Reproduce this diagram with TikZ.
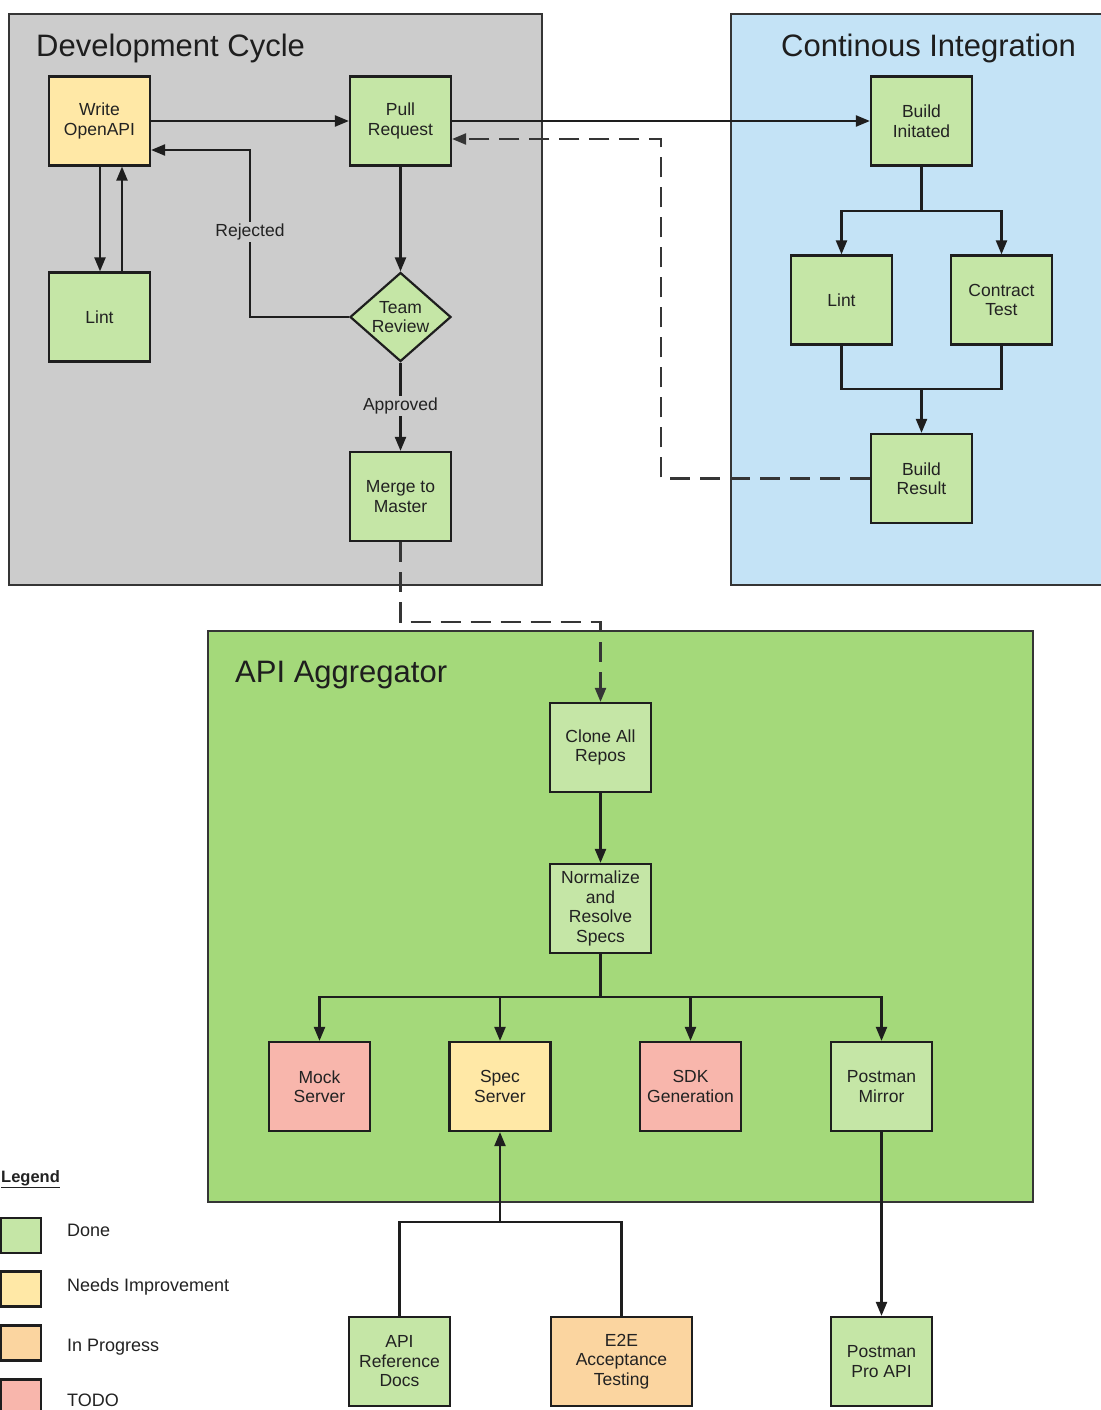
\documentclass[tikz,border=0pt]{standalone}
\usepackage{fontspec}
\setmainfont{Liberation Sans}
\usetikzlibrary{arrows.meta,shapes.geometric}
\definecolor{cDone}{HTML}{C5E6A6}
\definecolor{cNeeds}{HTML}{FFE8A6}
\definecolor{cProg}{HTML}{FBD5A0}
\definecolor{cTodo}{HTML}{F8B6AC}
\definecolor{cDev}{HTML}{CCCCCC}
\definecolor{cCI}{HTML}{C4E3F6}
\definecolor{cAgg}{HTML}{A4D97A}
\definecolor{cLine}{HTML}{1E1E1E}
\definecolor{cText}{HTML}{222222}
\begin{document}
\begin{tikzpicture}[x=1pt,y=-1pt,
  box/.style={draw=cLine, line width=2.2pt, minimum width=101pt, minimum height=89pt,
    inner sep=0pt, align=center, text=cText, font=\fontsize{17.5}{19.5}\selectfont},
  dia/.style={diamond, draw=cLine, line width=2.2pt, minimum width=101pt, minimum height=89pt,
    aspect=1.14, inner sep=0pt, align=center, text=cText, font=\fontsize{17.5}{19.5}\selectfont},
  panel/.style={draw=cLine!90, line width=2pt, inner sep=0pt},
  title/.style={anchor=west, inner sep=0pt, text=cLine, font=\fontsize{31}{35}\selectfont},
  lbl/.style={inner sep=2pt, text=cText, font=\fontsize{17.5}{19.5}\selectfont},
  conn/.style={draw=cLine, line width=2.2pt},
  arr/.style={conn, -{Triangle[length=14pt,width=11pt]}},
  dsh/.style={arr, draw=cLine!90, dash pattern=on 20pt off 10pt},
  leg/.style={draw=cLine, line width=2.2pt, minimum width=40pt, minimum height=35pt, inner sep=0pt},
  legtxt/.style={anchor=west, inner sep=0pt, text=cText, font=\fontsize{18}{20}\selectfont}
]
\useasboundingbox (0,0) rectangle (1100,1410);
\fill[white] (0,0) rectangle (1100,1410);

% panels
\node[panel, fill=cDev, minimum width=533pt, minimum height=571pt] (devp) at (275.5,299.5) {};
\node[panel, fill=cCI, minimum width=380pt, minimum height=571pt] (cip) at (921,299.5) {};
\node[panel, fill=cAgg, minimum width=825pt, minimum height=571pt] (aggp) at (620.5,916.5) {};
\node[title] (devt) at (36,48) {Development Cycle};
\node[title] (cit) at (781,48) {Continous Integration};
\node[title] (aggt) at (235,675) {API Aggregator};

% development cycle
\node[box, fill=cNeeds] (wo) at (99.5,121) {Write\\OpenAPI};
\node[box, fill=cDone] (pr) at (400.5,121) {Pull\\Request};
\node[box, fill=cDone] (lint1) at (99.5,317) {Lint};
\node[dia, fill=cDone] (tr) at (400.5,317) {Team\\Review};
\node[box, fill=cDone] (mm) at (400.5,496.5) {Merge to\\Master};

% CI
\node[box, fill=cDone] (bi) at (921.5,121) {Build\\Initated};
\node[box, fill=cDone] (lint2) at (841.5,300) {Lint};
\node[box, fill=cDone] (ct) at (1001.5,300) {Contract\\Test};
\node[box, fill=cDone] (br) at (921.5,478.5) {Build\\Result};

% aggregator
\node[box, fill=cDone] (clone) at (600.5,747.5) {Clone All\\Repos};
\node[box, fill=cDone] (norm) at (600.5,908.5) {Normalize\\and\\Resolve\\Specs};
\node[box, fill=cTodo] (mock) at (319.5,1086.5) {Mock\\Server};
\node[box, fill=cNeeds] (spec) at (500,1086.5) {Spec\\Server};
\node[box, fill=cTodo] (sdk) at (690.5,1086.5) {SDK\\Generation};
\node[box, fill=cDone] (pmir) at (881.5,1086.5) {Postman\\Mirror};
\node[box, fill=cDone] (ard) at (399.5,1361.5) {API\\Reference\\Docs};
\node[box, fill=cProg, minimum width=141pt] (e2e) at (621.5,1361.5) {E2E\\Acceptance\\Testing};
\node[box, fill=cDone] (ppa) at (881.5,1361.5) {Postman\\Pro API};

% connectors: development cycle
\draw[arr] (wo.east) -- (pr.west);
\draw[arr] ([xshift=0.5pt]wo.south) -- ([xshift=0.5pt]lint1.north);
\draw[arr] ([xshift=22.5pt]lint1.north) -- ([xshift=22.5pt]wo.south);
\coordinate (rjc) at (250,150);
\draw[arr] (tr.west) -| (rjc) -- (wo.east |- rjc);
\node[lbl, fill=cDev] (rjl) at (250,232) {Rejected};
\draw[arr] (pr.south) -- (tr.north);
\draw[arr] (tr.south) -- (mm.north);
\node[lbl, fill=cDev] (apl) at (400.5,406) {Approved};

% connectors: CI
\draw[arr] (pr.east) -- (bi.west);
\coordinate (ciS) at (921.5,211);
\draw[conn] (bi.south) -- (ciS);
\draw[arr] (ciS) -| (lint2.north);
\draw[arr] (ciS) -| (ct.north);
\coordinate (ciJ) at (921.5,389);
\draw[conn] (lint2.south) |- (ciJ) -| (ct.south);
\draw[arr] (ciJ) -- (br.north);
\coordinate (fbk) at (661,139);
\draw[dsh] (br.west) -| (fbk) -- (pr.east |- fbk);

% connectors: aggregator
\coordinate (mgc) at (600.5,622);
\draw[dsh] (mm.south) |- (mgc) -- (clone.north);
\draw[arr] (clone.south) -- (norm.north);
\coordinate (agS) at (600.5,997);
\draw[conn] (norm.south) -- (agS);
\draw[arr] (agS) -| (mock.north);
\draw[arr] (agS) -| (spec.north);
\draw[arr] (agS) -| (sdk.north);
\draw[arr] (agS) -| (pmir.north);
\coordinate (spJ) at (500,1222);
\draw[conn] (ard.north) |- (spJ) -| (e2e.north);
\draw[arr] (spJ) -- (spec.south);
\draw[arr] (pmir.south) -- (ppa.north);

% legend
\node[anchor=west, inner sep=0pt, text=cText, font=\bfseries\fontsize{16.5}{20}\selectfont] (legt) at (1,1179) {\underline{Legend}};
\node[leg, fill=cDone] (l1) at (21,1235.5) {};
\node[leg, fill=cNeeds] (l2) at (21,1289) {};
\node[leg, fill=cProg] (l3) at (21,1343) {};
\node[leg, fill=cTodo] (l4) at (21,1397) {};
\node[legtxt] (l1t) at (67,1230) {Done};
\node[legtxt] (l2t) at (67,1287) {Needs Improvement};
\node[legtxt] (l3t) at (67,1347) {In Progress};
\node[legtxt] (l4t) at (67,1400) {TODO};
\end{tikzpicture}
\end{document}
